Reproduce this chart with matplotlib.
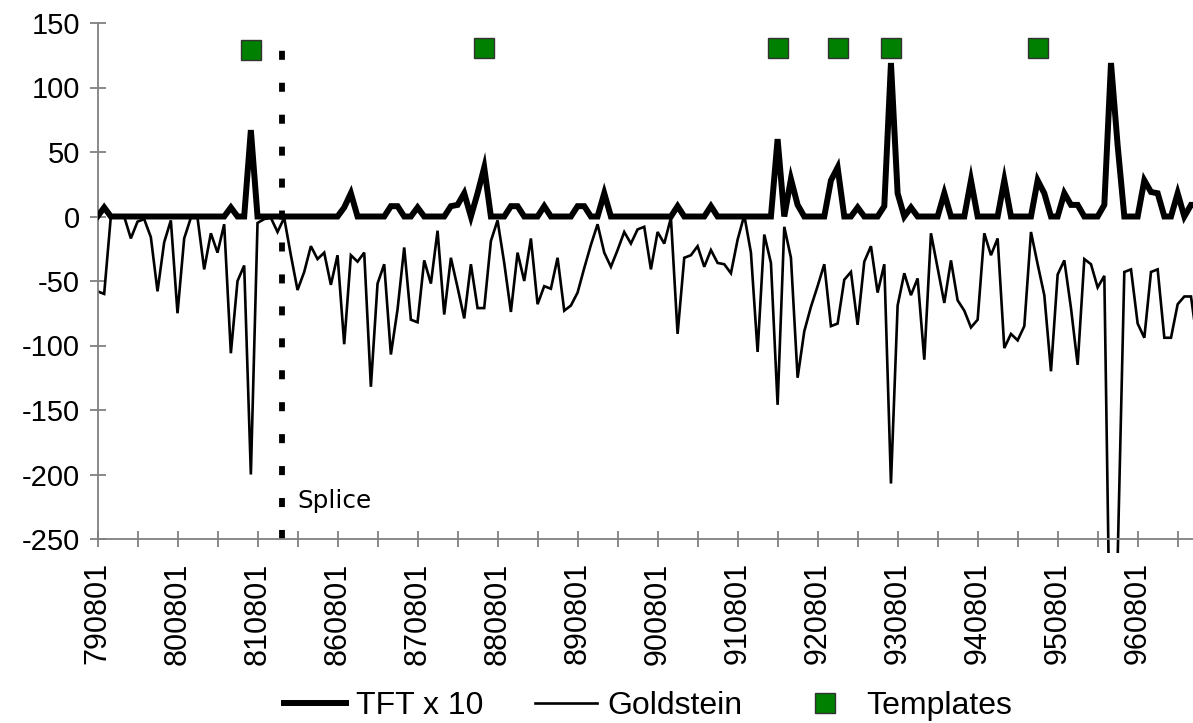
import matplotlib
matplotlib.use("Agg")
import matplotlib.pyplot as plt
from matplotlib.patches import Rectangle
import numpy as np

plt.rcParams['font.family'] = ['Liberation Sans', 'DejaVu Sans']
plt.rcParams['lines.scale_dashes'] = False

# monthly series, one value per month
tft_x10 = [
    0, 7, 0, 0, 0, 0, 0, 0, 0, 0, 0, 0, 0, 0, 0, 0, 0, 0, 0, 0,
    7, 0, 0, 67, 0, 0, 0, 0, 0, 0, 0, 0, 0, 0, 0, 0, 0, 7, 18, 0,
    0, 0, 0, 0, 8, 8, 0, 0, 7, 0, 0, 0, 0, 8, 9, 18, 0, 18, 38, 0,
    0, 0, 8, 8, 0, 0, 0, 8, 0, 0, 0, 0, 8, 8, 0, 0, 18, 0, 0, 0,
    0, 0, 0, 0, 0, 0, 0, 8, 0, 0, 0, 0, 8, 0, 0, 0, 0, 0, 0, 0,
    0, 0, 60, 0, 29, 9, 0, 0, 0, 0, 28, 38, 0, 0, 7, 0, 0, 0, 8, 119,
    18, 0, 7, 0, 0, 0, 0, 18, 0, 0, 0, 28, 0, 0, 0, 0, 28, 0, 0, 0,
    0, 28, 18, 0, 0, 18, 9, 9, 0, 0, 0, 9, 119, 55, 0, 0, 0, 28, 19, 18,
    0, 0, 18, 0, 9, 9,
]

goldstein = [
    -58, -60, 0, -1, 0, -17, -4, -2, -16, -58, -20, -3, -75, -17, -1, -1, -41, -13, -28, -6,
    -106, -50, -38, -200, -5, -2, -1, -12, -1, -30, -57, -43, -23, -33, -28, -53, -30, -99, -30, -35,
    -28, -132, -52, -37, -107, -72, -24, -80, -82, -34, -52, -11, -76, -32, -55, -79, -37, -71, -71, -19,
    -3, -36, -74, -28, -50, -17, -68, -54, -56, -32, -73, -69, -59, -40, -22, -6, -28, -39, -26, -12,
    -21, -10, -8, -41, -12, -21, -1, -91, -32, -30, -23, -39, -26, -36, -37, -44, -18, 1, -28, -105,
    -14, -36, -146, -8, -32, -125, -89, -70, -54, -37, -85, -83, -49, -43, -84, -35, -23, -59, -37, -207,
    -69, -44, -61, -48, -111, -13, -40, -67, -34, -65, -73, -86, -80, -13, -30, -17, -102, -91, -96, -85,
    -12, -37, -61, -120, -45, -34, -71, -115, -33, -37, -55, -46, -390, -265, -43, -41, -83, -94, -43, -41,
    -94, -94, -68, -62, -62, -100,
]

template_idx = [23, 58, 102, 111, 119, 141]
template_val = [129, 131, 131, 131, 131, 131]

year_labels = ['790801', '800801', '810801', '860801', '870801', '880801', '890801',
               '900801', '910801', '920801', '930801', '940801', '950801', '960801']

splice_at = 27.6

months = np.arange(len(tft_x10))

fig = plt.figure(figsize=(11.93, 7.23), dpi=100)
ax = fig.add_axes([97.5 / 1193, (723 - 539) / 723, 1 - 97.5 / 1193, (539 - 23) / 723])

ax.plot(months, tft_x10, color='black', lw=4.3, solid_joinstyle='miter',
        label='TFT x 10', zorder=3)
gold_line, = ax.plot(months, goldstein, color='black', lw=1.9, solid_joinstyle='miter',
                     label='Goldstein', zorder=2)
# let the deep dips run a little past the bottom axis
clip = Rectangle((0, -0.028), 1, 1.028, transform=ax.transAxes, facecolor='none')
gold_line.set_clip_path(clip)

ax.plot(template_idx, template_val, 's', color='#008000', markersize=13.7,
        markeredgecolor='#333333', markeredgewidth=1.0, ls='none',
        label='Templates', clip_on=False, zorder=4)

ax.plot([splice_at, splice_at], [-250, 132], color='black', lw=4.2,
        dashes=(6.5, 16.5), clip_on=False, zorder=1)
ax.text(30.0, -225.6, 'Splice', family='DejaVu Sans', fontsize=17.8, va='baseline', ha='left')

ax.set_xlim(0, 164.3)
ax.set_ylim(-250, 150)
ax.set_yticks(np.arange(-250, 151, 50))
ax.set_yticklabels([str(v) for v in range(-250, 151, 50)])

ticks = np.arange(0, 163, 6)
ax.set_xticks(ticks)
ax.set_xticklabels([year_labels[t // 12] if t % 12 == 0 else '' for t in ticks], rotation=90)

for side in ('top', 'right'):
    ax.spines[side].set_visible(False)
for side in ('left', 'bottom'):
    ax.spines[side].set_color('#808080')
    ax.spines[side].set_linewidth(1.3)

ax.tick_params(axis='both', direction='inout', length=11.5, width=1.3, color='#808080',
               labelcolor='black')
ax.tick_params(axis='y', pad=7, labelsize=21)
ax.tick_params(axis='x', pad=11, labelsize=22)

fig.legend(loc='center', bbox_to_anchor=(648 / 1193, 1 - 706 / 723), ncol=3, frameon=False,
           fontsize=23, handlelength=1.95, handletextpad=0.32, columnspacing=1.6,
           markerscale=1.05)

fig.savefig('out.png', dpi=100)
